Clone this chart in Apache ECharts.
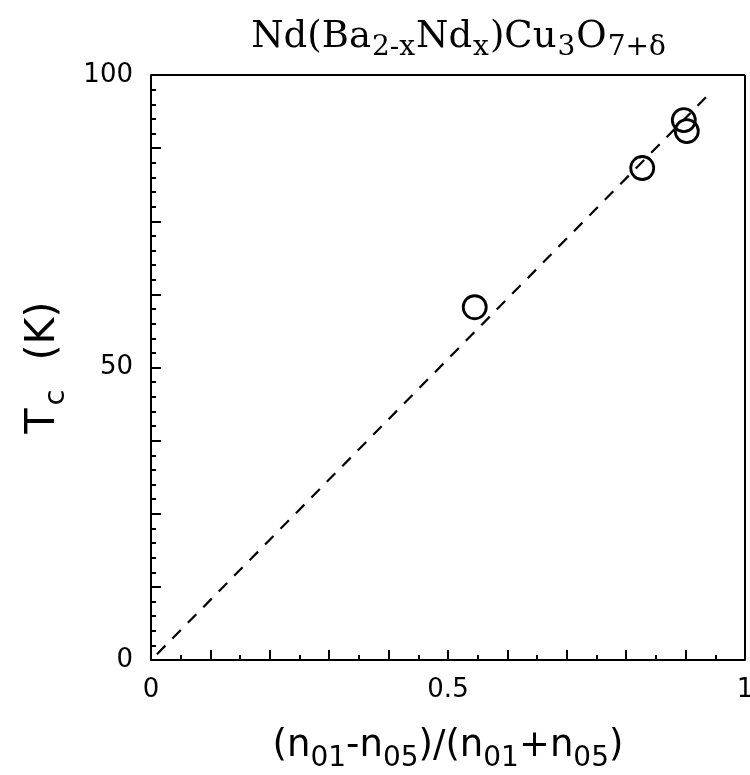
<!DOCTYPE html>
<html>
<head>
<meta charset="utf-8">
<script src="https://cdn.jsdelivr.net/npm/echarts@6/dist/echarts.min.js"></script>
<style>
  html, body { margin: 0; padding: 0; background: #fff; }
  #chart { width: 750px; height: 775px; }
</style>
</head>
<body>
<div id="chart"></div>
<script>
// Measured Tc versus oxygen-site occupancy ratio
const ratio = [0.545, 0.827, 0.897, 0.902];
const tc = [60.3, 84.1, 92.3, 90.4];

// Guide line through the origin
const guideX = [0.01, 0.946];
const guideY = [1.0, 97.4];

const xTickLabels = [0, 0.5, 1];
const yTickLabels = [0, 50, 100];

const chart = echarts.init(document.getElementById('chart'));

const sans = 'DejaVu Sans, Liberation Sans, sans-serif';
const serif = 'DejaVu Serif, Liberation Serif, serif';

function pick(list) {
  return function (v) {
    for (const t of list) if (Math.abs(v - t) < 1e-6) return String(t);
    return '';
  };
}

chart.setOption({
  animation: false,
  backgroundColor: '#fff',
  title: {
    text: '{b|Nd(Ba}{s|2-x}{b|Nd}{s|x}{b|)Cu}{s|3}{b|O}{s|7+δ}',
    left: 454,
    top: 14,
    textAlign: 'center',
    textStyle: {
      fontWeight: 'normal',
      rich: {
        b: { fontFamily: serif, fontSize: 37, fontWeight: 'normal', color: '#000', verticalAlign: 'top' },
        s: { fontFamily: serif, fontSize: 28, fontWeight: 'normal', color: '#000', verticalAlign: 'top', padding: [15, 1, 0, 1] }
      }
    }
  },
  grid: { left: 151, right: 5, top: 75, bottom: 115, containLabel: false, outerBoundsMode: 'none' },
  xAxis: {
    type: 'value',
    min: 0, max: 1, interval: 0.1,
    name: '{t|(n}{s|01}{t|-n}{s|05}{t|)/(n}{s|01}{t|+n}{s|05}{t|)}',
    nameLocation: 'middle',
    nameGap: 68,
    nameTextStyle: {
      rich: {
        t: { fontFamily: sans, fontSize: 37, color: '#000', verticalAlign: 'top' },
        s: { fontFamily: sans, fontSize: 28, color: '#000', verticalAlign: 'top', padding: [17, 0, 0, 0] }
      }
    },
    axisLine: { show: true, lineStyle: { color: '#000', width: 2 } },
    axisTick: { show: true, inside: true, length: 10, lineStyle: { color: '#000', width: 2 } },
    minorTick: { show: true, splitNumber: 2, length: 5, lineStyle: { color: '#000', width: 2 } },
    axisLabel: {
      formatter: pick(xTickLabels), color: '#000', fontFamily: sans, fontSize: 26, margin: 17,
      showMinLabel: true, showMaxLabel: true
    },
    splitLine: { show: false }
  },
  yAxis: {
    type: 'value',
    min: 0, max: 100, interval: 12.5,
    name: '{t|T}{s|c}{t|  (K)}',
    nameLocation: 'middle',
    nameRotate: 90,
    nameGap: 80,
    nameTextStyle: {
      rich: {
        t: { fontFamily: sans, fontSize: 41, color: '#000', verticalAlign: 'top' },
        s: { fontFamily: sans, fontSize: 29, color: '#000', verticalAlign: 'top', padding: [19, 3, 0, 3] }
      }
    },
    axisLine: { show: true, lineStyle: { color: '#000', width: 2 } },
    axisTick: { show: true, inside: true, length: 10, lineStyle: { color: '#000', width: 2 } },
    minorTick: { show: true, splitNumber: 5, length: 5, lineStyle: { color: '#000', width: 2 } },
    axisLabel: { formatter: pick(yTickLabels), color: '#000', fontFamily: sans, fontSize: 26, margin: 18 },
    splitLine: { show: false }
  },
  series: [
    {
      type: 'line',
      data: guideX.map((x, i) => [x, guideY[i]]),
      symbol: 'none',
      lineStyle: { color: '#000', width: 2.2, type: [12, 10] },
      silent: true
    },
    {
      type: 'scatter',
      data: ratio.map((x, i) => [x, tc[i]]),
      symbol: 'circle',
      symbolSize: 23,
      itemStyle: { color: 'rgba(0,0,0,0)', borderColor: '#000', borderWidth: 2.8, opacity: 1 }
    }
  ],
  graphic: [
    // closing frame on the top and right sides
    { type: 'line', shape: { x1: 151, y1: 75, x2: 745, y2: 75 }, style: { stroke: '#000', lineWidth: 2 } },
    { type: 'line', shape: { x1: 745, y1: 75, x2: 745, y2: 660 }, style: { stroke: '#000', lineWidth: 2 } }
  ]
});
</script>
</body>
</html>
